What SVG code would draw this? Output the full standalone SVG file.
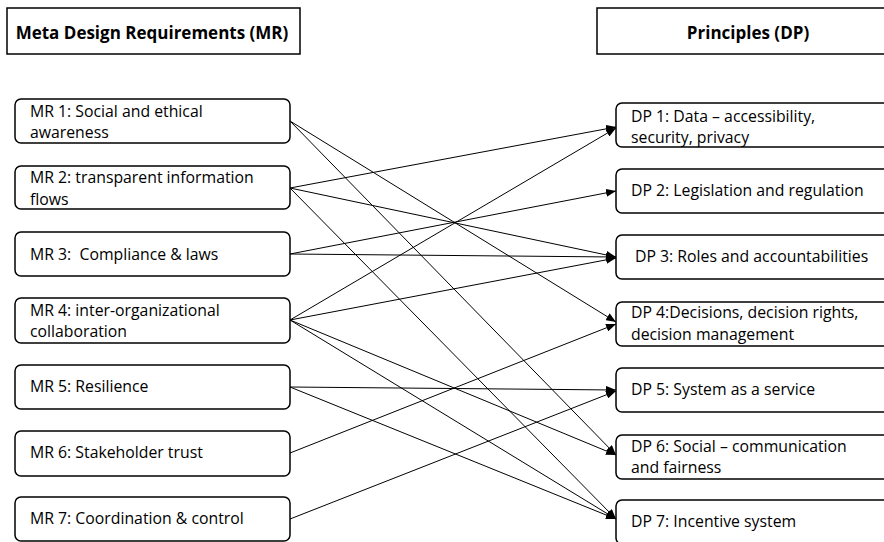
<svg xmlns="http://www.w3.org/2000/svg" width="884" height="542" viewBox="0 0 884 542">
  <style>
    .hdr { fill: #fff; stroke: #000; stroke-width: 1.5; }
    .box { fill: #fff; stroke: #000; stroke-width: 1.5; }
    .ht { font-family: "Open Sans", "Liberation Sans", sans-serif; font-size: 17px; font-weight: bold; fill: #000; }
    .t { font-family: "Open Sans", "Liberation Sans", sans-serif; font-size: 15.8px; fill: #000; }
    .c { fill: none; stroke: #000; stroke-width: 1; }
  </style>
  <defs>
    <marker id="arrow" viewBox="0 0 10 8" refX="10" refY="4" markerWidth="10" markerHeight="8" markerUnits="userSpaceOnUse" orient="auto">
      <path d="M0,0 L10,4 L0,8 Z" fill="#000"/>
    </marker>
  </defs>
  <rect width="884" height="542" fill="#fff"/>

  <!-- column headers -->
  <g id="header-mr">
    <rect class="hdr" x="7" y="8" width="293" height="46"/>
    <text class="ht" x="152" y="39" text-anchor="middle">Meta Design Requirements (MR)</text>
  </g>
  <g id="header-dp">
    <rect class="hdr" x="597" y="8" width="300" height="46"/>
    <text class="ht" x="748" y="39" text-anchor="middle">Principles (DP)</text>
  </g>

  <!-- connectors -->
  <g id="connectors">
    <line class="c" x1="290" y1="121" x2="616" y2="322" marker-end="url(#arrow)"/>
    <line class="c" x1="290" y1="121" x2="616" y2="455" marker-end="url(#arrow)"/>
    <line class="c" x1="290" y1="188" x2="616" y2="127" marker-end="url(#arrow)"/>
    <line class="c" x1="290" y1="188" x2="616" y2="257" marker-end="url(#arrow)"/>
    <line class="c" x1="290" y1="188" x2="616" y2="519" marker-end="url(#arrow)"/>
    <line class="c" x1="290" y1="254" x2="616" y2="191" marker-end="url(#arrow)"/>
    <line class="c" x1="290" y1="254" x2="616" y2="257" marker-end="url(#arrow)"/>
    <line class="c" x1="290" y1="320" x2="616" y2="128" marker-end="url(#arrow)"/>
    <line class="c" x1="290" y1="320" x2="616" y2="258" marker-end="url(#arrow)"/>
    <line class="c" x1="290" y1="320" x2="616" y2="455" marker-end="url(#arrow)"/>
    <line class="c" x1="290" y1="320" x2="616" y2="519" marker-end="url(#arrow)"/>
    <line class="c" x1="290" y1="387" x2="616" y2="390" marker-end="url(#arrow)"/>
    <line class="c" x1="290" y1="387" x2="616" y2="519" marker-end="url(#arrow)"/>
    <line class="c" x1="290" y1="453" x2="616" y2="324" marker-end="url(#arrow)"/>
    <line class="c" x1="290" y1="519" x2="616" y2="391" marker-end="url(#arrow)"/>
  </g>

  <!-- meta design requirements -->
  <g id="mr1">
    <rect class="box" x="15" y="99" width="275" height="44" rx="6"/>
    <text class="t" x="30" y="117">MR 1: Social and ethical</text>
    <text class="t" x="30" y="138">awareness</text>
  </g>
  <g id="mr2">
    <rect class="box" x="15" y="166" width="275" height="43" rx="6"/>
    <text class="t" x="30" y="183">MR 2: transparent information</text>
    <text class="t" x="30" y="205">flows</text>
  </g>
  <g id="mr3">
    <rect class="box" x="15" y="232" width="275" height="44" rx="6"/>
    <text class="t" x="30" y="260" xml:space="preserve">MR 3:  Compliance &amp; laws</text>
  </g>
  <g id="mr4">
    <rect class="box" x="15" y="298" width="275" height="45" rx="6"/>
    <text class="t" x="30" y="316">MR 4: inter-organizational</text>
    <text class="t" x="30" y="337">collaboration</text>
  </g>
  <g id="mr5">
    <rect class="box" x="15" y="365" width="275" height="44" rx="6"/>
    <text class="t" x="30" y="392">MR 5: Resilience</text>
  </g>
  <g id="mr6">
    <rect class="box" x="15" y="431" width="275" height="45" rx="6"/>
    <text class="t" x="30" y="458">MR 6: Stakeholder trust</text>
  </g>
  <g id="mr7">
    <rect class="box" x="15" y="497" width="275" height="44" rx="6"/>
    <text class="t" x="30" y="524">MR 7: Coordination &amp; control</text>
  </g>

  <!-- design principles -->
  <g id="dp1">
    <rect class="box" x="616" y="103" width="280" height="44" rx="6"/>
    <text class="t" x="631" y="122">DP 1: Data – accessibility,</text>
    <text class="t" x="631" y="143">security, privacy</text>
  </g>
  <g id="dp2">
    <rect class="box" x="616" y="169" width="280" height="44" rx="6"/>
    <text class="t" x="631" y="196">DP 2: Legislation and regulation</text>
  </g>
  <g id="dp3">
    <rect class="box" x="616" y="235" width="280" height="44" rx="6"/>
    <text class="t" x="635" y="262">DP 3: Roles and accountabilities</text>
  </g>
  <g id="dp4">
    <rect class="box" x="616" y="302" width="280" height="44" rx="6"/>
    <text class="t" x="631" y="318">DP 4:Decisions, decision rights,</text>
    <text class="t" x="631" y="340">decision management</text>
  </g>
  <g id="dp5">
    <rect class="box" x="616" y="368" width="280" height="44" rx="6"/>
    <text class="t" x="631" y="395">DP 5: System as a service</text>
  </g>
  <g id="dp6">
    <rect class="box" x="616" y="435" width="280" height="44" rx="6"/>
    <text class="t" x="631" y="452">DP 6: Social – communication</text>
    <text class="t" x="631" y="473">and fairness</text>
  </g>
  <g id="dp7">
    <rect class="box" x="616" y="500" width="280" height="44" rx="6"/>
    <text class="t" x="631" y="527">DP 7: Incentive system</text>
  </g>
</svg>
